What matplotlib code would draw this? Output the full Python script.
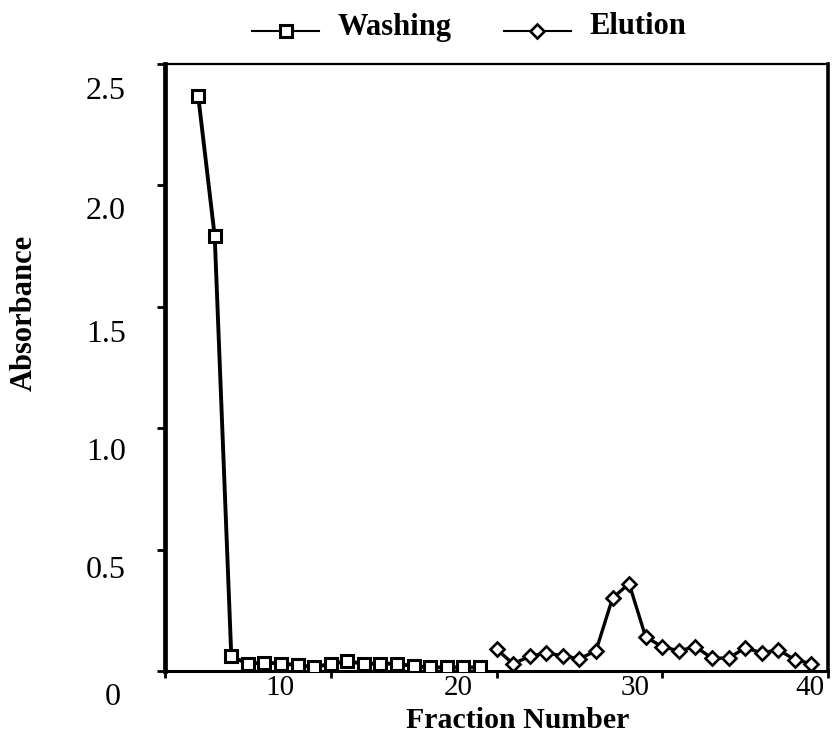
import matplotlib
matplotlib.use('Agg')
import matplotlib.pyplot as plt
from matplotlib.transforms import ScaledTranslation

# ---- data ----
washing_fraction = list(range(2, 20))
washing_abs = [2.37, 1.79, 0.06, 0.03, 0.035, 0.03, 0.025, 0.015, 0.03, 0.04,
               0.03, 0.03, 0.03, 0.02, 0.015, 0.015, 0.015, 0.015]
elution_fraction = list(range(20, 40))
elution_abs = [0.09, 0.03, 0.06, 0.074, 0.063, 0.05, 0.083, 0.30, 0.36, 0.14,
               0.10, 0.083, 0.10, 0.053, 0.053, 0.095, 0.075, 0.087, 0.047, 0.03]
x_ticks = [0, 10, 20, 30, 40]
x_tick_labels = ['', '10', '20', '30', '40']
y_ticks = [0, 0.5, 1.0, 1.5, 2.0, 2.5]
y_tick_labels = ['0', '0.5', '1.0', '1.5', '2.0', '2.5']
series_names = ['Washing', 'Elution']
x_title = 'Fraction Number'
y_title = 'Absorbance'

plt.rcParams['font.family'] = ['Liberation Serif', 'DejaVu Serif']

W, H = 832, 747
fig = plt.figure(figsize=(W / 100, H / 100), dpi=100)
ax = fig.add_axes([165 / W, 1 - 671 / H, (828 - 165) / W, (671 - 64) / H])

l1, = ax.plot(washing_fraction, washing_abs, color='black', lw=2.8,
              marker='s', ms=8, mfc='white', mec='black', mew=2.2,
              label=series_names[0], zorder=3)
l2, = ax.plot(elution_fraction, elution_abs, color='black', lw=2.4,
              marker='D', ms=7.2, mfc='white', mec='black', mew=1.9,
              label=series_names[1], zorder=3)

ax.set_xlim(0, 40)
ax.set_ylim(0, 2.5)

ax.spines['left'].set_linewidth(3.4)
ax.spines['bottom'].set_linewidth(2.2)
ax.spines['top'].set_linewidth(1.6)
ax.spines['right'].set_linewidth(2.6)

ax.set_xticks(x_ticks, labels=x_tick_labels)
ax.set_yticks(y_ticks, labels=y_tick_labels)
ax.tick_params(axis='x', direction='out', length=5, width=2, pad=0,
               labelsize=21)
ax.tick_params(axis='y', direction='out', length=6, width=2, pad=22,
               labelsize=23)

# the scanned figure has its tick labels displaced from their tick marks
x_shift = [0, -51, -38, -27, -18]
for lbl, dx in zip(ax.get_xticklabels(), x_shift):
    lbl.set_transform(lbl.get_transform() +
                      ScaledTranslation(dx / 100, 3 / 100, fig.dpi_scale_trans))
y_shift = [(-5, 23), (0, 17), (0, 21), (0, 24), (0, 23), (0, 24)]
for lbl, (dx, dy) in zip(ax.get_yticklabels(), y_shift):
    lbl.set_transform(lbl.get_transform() +
                      ScaledTranslation(dx / 100, -dy / 100, fig.dpi_scale_trans))

fig.text(518 / W, 1 - 721 / H, x_title, fontsize=21.5, fontweight='bold',
         ha='center', va='center')
fig.text(24 / W, 1 - 313 / H, y_title, fontsize=22, fontweight='bold',
         ha='center', va='center', rotation=90)

leg = fig.legend(handles=[l1, l2], loc='center', ncol=2, frameon=False,
                 bbox_to_anchor=(469 / W, 1 - 27 / H),
                 handlelength=2.2, handletextpad=0.6, columnspacing=1.7,
                 prop={'weight': 'bold', 'size': 22})
for ln in leg.get_lines():
    ln.set_linewidth(1.5)
    ln.set_transform(ln.get_transform() +
                     ScaledTranslation(0, -7 / 100, fig.dpi_scale_trans))

fig.savefig('out.png', dpi=100, facecolor='white')
